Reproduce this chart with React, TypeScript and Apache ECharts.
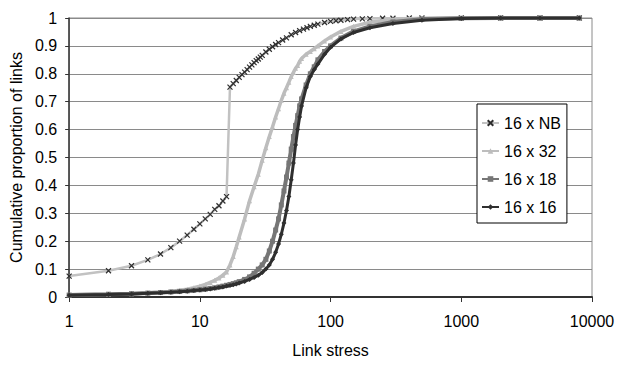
import React, { useEffect, useRef } from "react";
import * as echarts from "echarts";

// Link stress values (x) and cumulative proportion of links (y) per topology.
const stressNB = [
  1, 2, 3, 4, 5, 6, 7, 8, 9, 10, 11, 12, 13, 14, 15, 16, 17, 18, 19, 20, 21, 22, 23, 24, 25, 26, 27, 28, 29,
  30, 32, 34, 36, 38, 40, 43, 46, 50, 54, 58, 62, 66, 70, 75, 80, 90, 100, 110, 120, 135, 150, 175, 200, 250,
  300, 400, 500, 1000, 2000, 4000, 8000,
];
const cdfNB = [
  0.075, 0.094, 0.112, 0.133, 0.154, 0.177, 0.2, 0.222, 0.243, 0.262, 0.28, 0.296, 0.314, 0.327, 0.344, 0.36,
  0.752, 0.765, 0.776, 0.787, 0.797, 0.806, 0.815, 0.824, 0.832, 0.84, 0.847, 0.853, 0.86, 0.866, 0.878, 0.888,
  0.897, 0.905, 0.912, 0.921, 0.929, 0.94, 0.948, 0.955, 0.96, 0.965, 0.97, 0.974, 0.978, 0.984, 0.988, 0.99,
  0.992, 0.994, 0.996, 0.997, 0.998, 0.999, 0.999, 1, 1, 1, 1, 1, 1,
];

const stress = [
  1, 2, 3, 4, 5, 6, 7, 8, 9, 10, 11, 12, 13, 14, 15, 16, 17, 18, 19, 20, 22, 24, 26, 28, 30, 32, 34, 36, 38, 40,
  42, 44, 46, 48, 50, 52, 54, 56, 58, 60, 65, 70, 75, 80, 90, 100, 120, 150, 200, 300, 500, 1000, 2000, 4000, 8000,
];
const cdf32 = [
  0.008, 0.01, 0.012, 0.014, 0.017, 0.02, 0.024, 0.028, 0.033, 0.039, 0.045, 0.052, 0.06, 0.068, 0.078, 0.09,
  0.115, 0.145, 0.18, 0.215, 0.28, 0.345, 0.395, 0.44, 0.49, 0.535, 0.575, 0.61, 0.645, 0.675, 0.705, 0.73, 0.75,
  0.77, 0.79, 0.805, 0.82, 0.83, 0.845, 0.855, 0.87, 0.88, 0.89, 0.9, 0.918, 0.932, 0.952, 0.97, 0.985, 0.995,
  0.999, 1, 1, 1, 1,
];
const cdf18 = [
  0.007, 0.01, 0.012, 0.014, 0.016, 0.018, 0.02, 0.022, 0.024, 0.026, 0.028, 0.031, 0.033, 0.036, 0.039, 0.042,
  0.045, 0.048, 0.051, 0.055, 0.063, 0.072, 0.085, 0.1, 0.115, 0.135, 0.165, 0.2, 0.24, 0.28, 0.33, 0.38, 0.43,
  0.48, 0.53, 0.575, 0.615, 0.65, 0.685, 0.71, 0.76, 0.8, 0.825, 0.85, 0.88, 0.9, 0.928, 0.952, 0.97, 0.986,
  0.996, 0.999, 1, 1, 1,
];
const cdf16 = [
  0.006, 0.009, 0.011, 0.013, 0.015, 0.017, 0.019, 0.021, 0.023, 0.025, 0.027, 0.029, 0.031, 0.034, 0.036, 0.039,
  0.041, 0.044, 0.047, 0.05, 0.056, 0.063, 0.07, 0.078, 0.088, 0.1, 0.115, 0.135, 0.16, 0.19, 0.225, 0.265, 0.31,
  0.36, 0.42, 0.48, 0.545, 0.6, 0.645, 0.685, 0.75, 0.79, 0.815, 0.835, 0.87, 0.895, 0.925, 0.948, 0.965, 0.98,
  0.992, 0.998, 1, 1, 1,
];

const seriesNames = ["16 x NB", "16 x 32", "16 x 18", "16 x 16"];

const FONT = "'Liberation Sans', Arial, sans-serif";

const pairs = (xs: number[], ys: number[]) => xs.map((x, i) => [x, ys[i]]);

export default function App() {
  const ref = useRef<HTMLDivElement>(null);

  useEffect(() => {
    if (!ref.current) return;
    const chart = echarts.init(ref.current, undefined, { renderer: "svg" });
    chart.setOption({
      animation: false,
      backgroundColor: "#ffffff",
      textStyle: { fontFamily: FONT, color: "#000" },
      grid: {
        left: 67,
        right: 39,
        top: 18,
        bottom: 69,
        show: true,
        borderColor: "#8a8a8a",
        borderWidth: 1,
      },
      legend: {
        orient: "vertical",
        left: 477,
        top: 104,
        padding: [10, 6, 7, 4],
        itemGap: 10,
        itemWidth: 17,
        itemHeight: 7,
        backgroundColor: "#ffffff",
        borderColor: "#000",
        borderWidth: 1,
        borderRadius: 0,
        textStyle: { fontFamily: FONT, fontSize: 16, color: "#000", lineHeight: 18 },
        data: seriesNames,
      },
      xAxis: {
        type: "log",
        logBase: 10,
        min: 1,
        max: 10000,
        name: "Link stress",
        nameLocation: "middle",
        nameGap: 45,
        nameTextStyle: { fontFamily: FONT, fontSize: 16, color: "#000" },
        axisLine: { lineStyle: { color: "#333", width: 2 } },
        axisTick: { show: true, inside: false, length: 5, lineStyle: { color: "#333" } },
        axisLabel: {
          fontFamily: FONT,
          fontSize: 16,
          color: "#000",
          margin: 16,
          formatter: (v: number) => String(Math.round(v)),
        },
        minorTick: { show: false },
        splitLine: { show: false },
      },
      yAxis: {
        type: "value",
        min: 0,
        max: 1,
        interval: 0.1,
        name: "Cumulative proportion of links",
        nameLocation: "middle",
        nameGap: 34,
        nameTextStyle: { fontFamily: FONT, fontSize: 16, color: "#000" },
        axisLine: { show: true, lineStyle: { color: "#333", width: 1.5 } },
        axisTick: { show: true, inside: false, length: 4, lineStyle: { color: "#333" } },
        axisLabel: { fontFamily: FONT, fontSize: 16, color: "#000", margin: 12 },
        splitLine: { show: true, lineStyle: { color: "#8a8a8a", width: 1 } },
      },
      series: [
        {
          name: seriesNames[0],
          type: "line",
          data: pairs(stressNB, cdfNB),
          symbol: "path://M0,0L10,10M10,0L0,10",
          symbolSize: 5,
          showAllSymbol: true,
          lineStyle: { color: "#c2c2c2", width: 2.5 },
          itemStyle: { color: "#2e2e2e", borderColor: "#2e2e2e", borderWidth: 1.2 },
          z: 2,
        },
        {
          name: seriesNames[1],
          type: "line",
          data: pairs(stress, cdf32),
          symbol: "triangle",
          symbolSize: 5,
          showAllSymbol: true,
          lineStyle: { color: "#bdbdbd", width: 3.5 },
          itemStyle: { color: "#bdbdbd" },
          z: 3,
        },
        {
          name: seriesNames[2],
          type: "line",
          data: pairs(stress, cdf18),
          symbol: "rect",
          symbolSize: 5,
          showAllSymbol: true,
          lineStyle: { color: "#767676", width: 4 },
          itemStyle: { color: "#767676" },
          z: 4,
        },
        {
          name: seriesNames[3],
          type: "line",
          data: pairs(stress, cdf16),
          symbol: "diamond",
          symbolSize: 5,
          showAllSymbol: true,
          lineStyle: { color: "#2f2f2f", width: 3 },
          itemStyle: { color: "#2f2f2f" },
          z: 5,
        },
      ],
    });
    return () => chart.dispose();
  }, []);

  return <div ref={ref} style={{ width: 631, height: 366, position: "absolute", left: 0, top: 0 }} />;
}
